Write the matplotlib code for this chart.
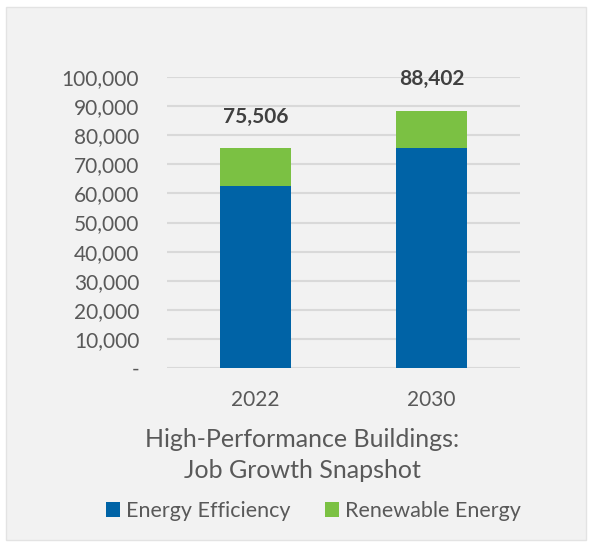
import matplotlib.pyplot as plt
from matplotlib.patches import Rectangle

years = ["2022", "2030"]
energy_efficiency = [62700, 75700]
renewable_energy = [12806, 12702]
totals = [75506, 88402]
y_ticks = list(range(0, 100001, 10000))

BLUE = "#0063A6"
GREEN = "#7BC143"
TEXT = "#595959"


def tick_label(v):
    return "-" if v == 0 else f"{v:,}"


def main():
    plt.rcParams["font.family"] = ["Lato", "DejaVu Sans"]
    fig = plt.figure(figsize=(5.91, 5.42), dpi=100, facecolor="white")
    W, H = 591, 542

    # light grey panel behind the chart
    fig.patches.append(Rectangle((6 / W, 2 / H), 580 / W, 533 / H, transform=fig.transFigure,
                                 facecolor="#F2F2F2", edgecolor="#E3E3E3", linewidth=1, zorder=-5))

    ax = fig.add_axes([167 / W, 1 - 368 / H, 353 / W, 291 / H])
    ax.set_facecolor("none")
    x = range(len(years))
    ax.bar(x, energy_efficiency, width=0.4, color=BLUE, label="Energy Efficiency", zorder=3)
    ax.bar(x, renewable_energy, width=0.4, bottom=energy_efficiency, color=GREEN,
           label="Renewable Energy", zorder=3)

    for xi, t in zip(x, totals):
        ax.annotate(f"{t:,}", (xi, t), xytext=(0, 15.5), textcoords="offset points",
                    ha="center", va="bottom", fontsize=15, fontweight="bold", color="#404040")

    ax.set_xlim(-0.5, 1.5)
    ax.set_ylim(0, 100000)
    ax.set_yticks(y_ticks)
    ax.set_yticklabels([tick_label(v) for v in y_ticks])
    ax.set_xticks(list(x))
    ax.set_xticklabels(years)
    ax.tick_params(axis="both", length=0, labelsize=15, labelcolor=TEXT)
    ax.tick_params(axis="y", pad=20)
    ax.tick_params(axis="x", pad=16)
    ax.grid(axis="y", color="#D9D9D9", linewidth=1.5, zorder=0)
    for s in ax.spines.values():
        s.set_visible(False)

    fig.text(302.5 / W, 1 - 455 / H, "High-Performance Buildings:\nJob Growth Snapshot",
             ha="center", va="center", fontsize=18, color=TEXT, linespacing=1.4)

    fig.legend(loc="center", bbox_to_anchor=(313.5 / W, 1 - 511 / H), ncol=2, frameon=False,
               fontsize=15.5, labelcolor=TEXT, handlelength=0.65, handleheight=0.65,
               handletextpad=0.28, columnspacing=1.6)

    fig.savefig("out.png", dpi=100, facecolor="white")


if __name__ == "__main__":
    main()
